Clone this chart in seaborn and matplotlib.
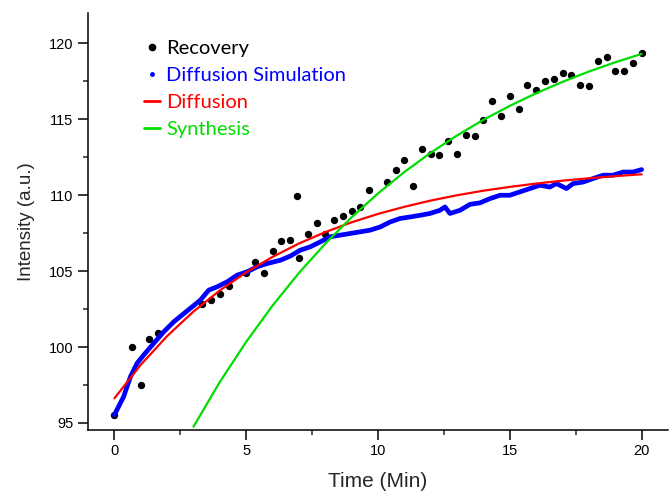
"""Recuperación de intensidad: datos, simulación de difusión y ajustes."""

import matplotlib
matplotlib.use("Agg")

import matplotlib.pyplot as plt
import pandas as pd
import seaborn as sns
from matplotlib.lines import Line2D
from matplotlib.ticker import MultipleLocator


# Recovery (puntos negros visibles)
recovery_time = [
    0.00, 0.67, 1.00, 1.33, 1.67,
    3.33, 3.67, 4.00, 4.33, 5.00, 5.33, 5.67, 6.00, 6.33,
    6.67, 6.92, 7.00, 7.33, 7.67, 8.00, 8.33, 8.67, 9.00, 9.33,
    9.67, 10.33, 10.67, 11.00, 11.33, 11.67, 12.00, 12.33, 12.67,
    13.00, 13.33, 13.67, 14.00, 14.33, 14.67, 15.00, 15.33, 15.67, 16.00,
    16.33, 16.67, 17.00, 17.33, 17.67, 18.00, 18.33, 18.67, 19.00, 19.33,
    19.67, 20.00,
]
recovery_intensity = [
    95.53, 100.0, 97.5, 100.5, 100.9,
    102.83, 103.12, 103.47, 104.05, 104.85, 105.58, 104.85, 106.3, 107.0,
    107.08, 109.93, 105.84, 107.42, 108.18, 107.43, 108.4, 108.63, 108.96, 109.23,
    110.37, 110.87, 111.69, 112.35, 110.61, 113.07, 112.74, 112.63, 113.55,
    112.74, 114.0, 113.88, 114.93, 116.2, 115.2, 116.51, 115.7, 117.24, 116.91,
    117.55, 117.68, 118.07, 117.89, 117.24, 117.17, 118.82, 119.1, 118.2, 118.16,
    118.7, 119.39,
]

# Diffusion Simulation (banda azul)
sim_time = [
    0.00, 0.35, 0.61, 0.86, 1.11, 1.49, 1.87, 2.25, 2.56, 2.88,
    3.26, 3.58, 3.90, 4.28, 4.66, 5.04, 5.42, 5.79, 6.30, 6.68,
    7.05, 7.43, 7.81, 8.18, 8.56, 8.94, 9.32, 9.70, 10.08, 10.46,
    10.84, 11.22, 11.60, 11.97, 12.35, 12.54, 12.73, 13.11, 13.49, 13.87,
    14.25, 14.63, 15.00, 15.38, 15.76, 16.14, 16.52, 16.77, 17.15, 17.40,
    17.78, 18.16, 18.54, 18.92, 19.30, 19.68, 20.00,
]
sim_intensity = [
    95.53, 96.73, 98.05, 98.93, 99.47, 100.24, 101.0, 101.66, 102.1, 102.55,
    103.09, 103.75, 103.97, 104.3, 104.74, 104.96, 105.29, 105.5, 105.72, 106.0,
    106.38, 106.6, 106.93, 107.26, 107.37, 107.48, 107.59, 107.7, 107.91, 108.24,
    108.47, 108.57, 108.68, 108.8, 109.01, 109.23, 108.8, 109.01, 109.4, 109.5,
    109.78, 110.0, 110.0, 110.22, 110.44, 110.66, 110.54, 110.77, 110.44, 110.77,
    110.87, 111.1, 111.32, 111.32, 111.53, 111.53, 111.69,
]

# Diffusion (ajuste rojo)
diffusion_time = [0, 1, 2, 3, 4, 5, 6, 7, 8, 9, 10,
                  11, 12, 13, 14, 15, 16, 17, 18, 19, 20]
diffusion_intensity = [96.62, 98.83, 100.72, 102.34, 103.73, 104.92, 105.94,
                       106.82, 107.57, 108.22, 108.77, 109.24, 109.65, 110.00,
                       110.30, 110.55, 110.77, 110.96, 111.12, 111.26, 111.38]

# Synthesis (ajuste verde)
synthesis_time = [3, 4, 5, 6, 7, 8, 9, 10, 11,
                  12, 13, 14, 15, 16, 17, 18, 19, 20]
synthesis_intensity = [94.75, 97.70, 100.34, 102.73, 104.88, 106.81, 108.55,
                       110.12, 111.53, 112.80, 113.94, 114.97, 115.89, 116.72,
                       117.47, 118.15, 118.76, 119.31]

BLUE = "#0000ff"
RED = "#ff0000"
GREEN = "#00dd00"

sns.set_style("ticks")
plt.rcParams["font.family"] = ["Liberation Sans", "DejaVu Sans"]

fig = plt.figure(figsize=(6.72, 5.04), dpi=100)
ax = fig.add_axes([0.131, 0.147, 0.863, 0.827])

recovery_df = pd.DataFrame({"t": recovery_time, "y": recovery_intensity})
sim_df = pd.DataFrame({"t": sim_time, "y": sim_intensity})
diff_df = pd.DataFrame({"t": diffusion_time, "y": diffusion_intensity})
synth_df = pd.DataFrame({"t": synthesis_time, "y": synthesis_intensity})

sns.scatterplot(data=recovery_df, x="t", y="y", ax=ax, color="black",
                s=28, linewidth=0, zorder=2)
sns.lineplot(data=sim_df, x="t", y="y", ax=ax, color=BLUE, linewidth=3.4,
             sort=False, zorder=3)
sns.lineplot(data=diff_df, x="t", y="y", ax=ax, color=RED, linewidth=1.6,
             sort=False, zorder=4)
sns.lineplot(data=synth_df, x="t", y="y", ax=ax, color=GREEN, linewidth=1.6,
             sort=False, zorder=4)

ax.set_xlim(-1, 21)
ax.set_ylim(94.54, 122)
ax.xaxis.set_major_locator(MultipleLocator(5))
ax.xaxis.set_minor_locator(MultipleLocator(2.5))
ax.yaxis.set_major_locator(MultipleLocator(5))
ax.yaxis.set_minor_locator(MultipleLocator(2.5))
ax.tick_params(which="major", direction="out", length=7, width=1.1,
               labelsize=10.5, colors="black")
ax.tick_params(which="minor", direction="out", length=3.6, width=1.1)
for side in ("top", "right"):
    ax.spines[side].set_visible(False)
for side in ("left", "bottom"):
    ax.spines[side].set_linewidth(1.1)
    ax.spines[side].set_color("black")

ax.set_xlabel("Time (Min)", fontsize=15, labelpad=10)
ax.set_ylabel("Intensity (a.u.)", fontsize=13.5, labelpad=10)

handles = [
    Line2D([], [], linestyle="none", marker="o", markersize=4.5, color="black"),
    Line2D([], [], linestyle="none", marker="o", markersize=2.5, color=BLUE),
    Line2D([], [], color=RED, linewidth=2),
    Line2D([], [], color=GREEN, linewidth=2),
]
labels = ["Recovery", "Diffusion Simulation", "Diffusion", "Synthesis"]
leg = ax.legend(handles, labels, loc="upper left", bbox_to_anchor=(0.065, 0.98),
                frameon=False, handlelength=0.8, handletextpad=0.3,
                labelspacing=0.5,
                prop={"family": ["Lato", "DejaVu Sans"], "size": 14.5})
for text, colour in zip(leg.get_texts(), ["black", BLUE, RED, GREEN]):
    text.set_color(colour)

fig.savefig("out.png", dpi=100)
